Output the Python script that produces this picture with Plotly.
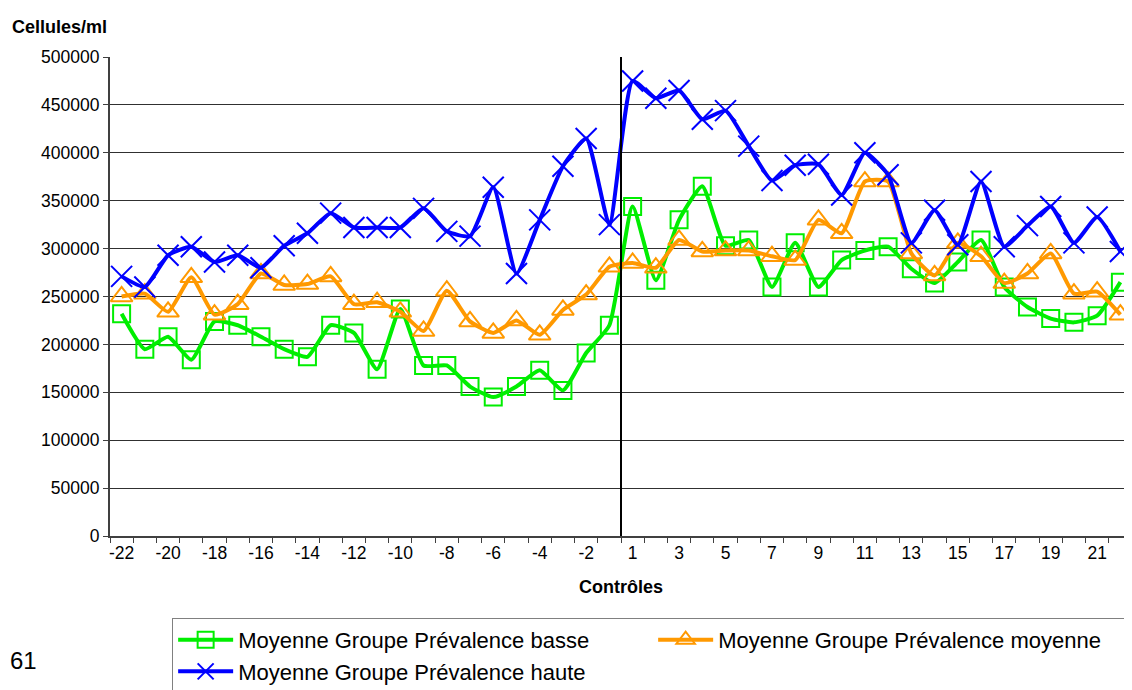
import plotly.graph_objects as go

controles = [str(v) for v in range(-22, 0)] + [str(v) for v in range(1, 23)]

basse = [232000, 195000, 208000, 184000, 224000, 220000, 208000, 195000, 187000, 220000, 212000,
         174000, 237000, 178000, 178000, 156000, 145000, 156000, 173000, 152000, 191000, 220000,
         344000, 267000, 330000, 365000, 303000, 309000, 260000, 306000, 260000, 288000, 298000,
         302000, 279000, 264000, 286000, 309000, 260000, 239000, 227000, 223000, 230000, 265000]

moyenne = [250000, 253000, 234000, 270000, 231000, 242000, 274000, 262000, 263000, 271000, 242000,
           244000, 234000, 214000, 256000, 224000, 212000, 225000, 210000, 236000, 252000, 281000,
           285000, 280000, 309000, 297000, 298000, 298000, 292000, 288000, 330000, 316000, 370000,
           370000, 295000, 272000, 306000, 292000, 264000, 274000, 295000, 253000, 255000, 231000]

haute = [271000, 260000, 293000, 302000, 286000, 293000, 280000, 303000, 316000, 337000, 322000,
         322000, 322000, 342000, 318000, 313000, 364000, 274000, 330000, 386000, 415000, 325000,
         475000, 457000, 465000, 435000, 444000, 407000, 371000, 387000, 388000, 356000, 400000,
         377000, 306000, 340000, 304000, 370000, 302000, 324000, 344000, 306000, 333000, 297000]

y_ticks = [0, 50000, 100000, 150000, 200000, 250000, 300000, 350000, 400000, 450000, 500000]

idx = list(range(len(controles)))
label_idx = idx[::2]
label_txt = [controles[i] for i in label_idx]
boundaries = [i - 0.5 for i in range(len(controles) + 1)]
split_pos = controles.index("1") - 0.5

FONT = "Liberation Sans, Arial, sans-serif"

series = [
    ("Moyenne Groupe Prévalence basse", basse, "#00EE00", "square-open", 17),
    ("Moyenne Groupe Prévalence moyenne", moyenne, "#FF9900", "triangle-up-open", 19),
    ("Moyenne Groupe Prévalence haute", haute, "#0000FF", "x-thin-open", 21),
]

fig = go.Figure()
for name, vals, col, sym, size in series:
    fig.add_trace(go.Scatter(
        x=idx, y=vals, name=name, mode="lines+markers",
        line=dict(color=col, width=4, shape="spline", smoothing=0.5),
        marker=dict(symbol=sym, size=size, color=col, line=dict(color=col, width=2)),
    ))

fig.add_vline(x=split_pos, line=dict(color="black", width=2), layer="above")

fig.update_layout(
    width=1132, height=690, autosize=False,
    margin=dict(l=102, r=8, t=49, b=162, autoexpand=False),
    paper_bgcolor="white", plot_bgcolor="white",
    font=dict(family=FONT, color="black", size=17),
    showlegend=True,
    legend=dict(
        orientation="h", xref="container", yref="container",
        x=0.145, xanchor="left", y=0.116, yanchor="top",
        font=dict(family=FONT, size=22, color="black"),
        bordercolor="#808080", borderwidth=1, bgcolor="white",
        entrywidth=410, entrywidthmode="pixels", traceorder="normal",
        itemwidth=55,
    ),
    xaxis=dict(
        range=[-0.5, len(controles) - 0.5], automargin=False,
        tickmode="array", tickvals=label_idx, ticktext=label_txt,
        ticks="", showgrid=False, zeroline=False,
        showline=True, linecolor="#404040", linewidth=2,
        tickfont=dict(family=FONT, size=17.5, color="black"),
        minor=dict(tickmode="array", tickvals=boundaries, ticks="outside",
                   ticklen=5, tickcolor="#404040", tickwidth=1, showgrid=False),
    ),
    yaxis=dict(
        range=[0, 500000], automargin=False, tickmode="array", tickvals=y_ticks,
        ticks="outside", ticklen=5, tickcolor="#404040",
        showgrid=True, gridcolor="#303030", gridwidth=1,
        zeroline=False, showline=True, linecolor="#404040", linewidth=2,
        tickfont=dict(family=FONT, size=17.5, color="black"),
        tickformat="d",
    ),
    annotations=[
        dict(text="<b>Cellules/ml</b>", xref="paper", yref="paper", x=-0.098, y=1.063,
             xanchor="left", yanchor="middle", showarrow=False,
             font=dict(family=FONT, size=18, color="black")),
        dict(text="<b>Contrôles</b>", xref="paper", yref="paper", x=0.5, y=-0.1065,
             xanchor="center", yanchor="middle", showarrow=False,
             font=dict(family=FONT, size=18, color="black")),
        dict(text="61", xref="paper", yref="paper", x=-0.0995, y=-0.259,
             xanchor="left", yanchor="middle", showarrow=False,
             font=dict(family=FONT, size=24, color="black")),
    ],
)

fig.write_html("out.html")
